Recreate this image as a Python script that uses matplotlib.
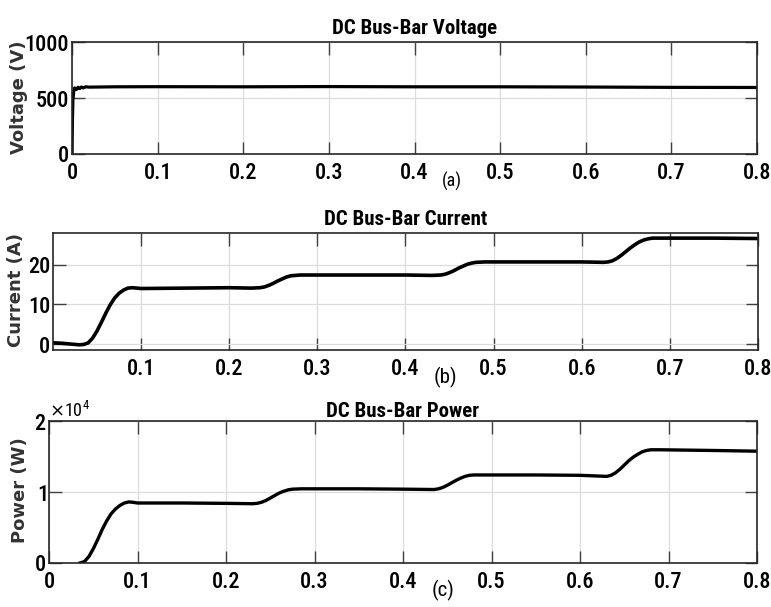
import numpy as np
import matplotlib
matplotlib.use('Agg')
from matplotlib import pyplot as plt
from matplotlib import font_manager
from matplotlib.ticker import ScalarFormatter

# voltage (V)
t_v = [0.0, 0.0005, 0.001, 0.002, 0.003, 0.005, 0.007, 0.009, 0.011, 0.013, 0.016, 0.02,
       0.05, 0.1, 0.2, 0.3, 0.4, 0.5, 0.6, 0.7, 0.8]
volt = [0, 300, 480, 560, 590, 575, 596, 584, 598, 590, 600, 597,
        600, 601, 600, 602, 600, 600, 598, 595, 594]

# current (A)
t_i = [0.0015, 0.01, 0.02, 0.03, 0.035, 0.04, 0.045, 0.05, 0.055, 0.06, 0.065, 0.07, 0.075,
       0.08, 0.085, 0.09, 0.095, 0.1, 0.15, 0.2, 0.225, 0.235, 0.24, 0.245, 0.25, 0.255,
       0.26, 0.265, 0.27, 0.28, 0.29, 0.35, 0.4, 0.43, 0.44, 0.445, 0.45, 0.455, 0.46,
       0.465, 0.47, 0.475, 0.48, 0.49, 0.55, 0.6, 0.625, 0.63, 0.635, 0.64, 0.645, 0.65,
       0.655, 0.66, 0.665, 0.67, 0.675, 0.68, 0.69, 0.75, 0.8]
curr = [0.3, 0.2, 0.0, -0.2, -0.1, 0.3, 1.5, 3.3, 5.5, 7.8, 9.9, 11.6, 12.8,
        13.6, 14.1, 14.2, 14.1, 14.0, 14.1, 14.2, 14.1, 14.2, 14.4, 14.8, 15.3, 15.9,
        16.4, 16.9, 17.2, 17.4, 17.4, 17.4, 17.4, 17.3, 17.4, 17.6, 18.0, 18.5, 19.1,
        19.6, 20.1, 20.4, 20.6, 20.7, 20.7, 20.7, 20.6, 20.7, 21.0, 21.6, 22.4, 23.3,
        24.2, 25.0, 25.7, 26.2, 26.5, 26.7, 26.7, 26.7, 26.6]

# power (W)
t_p = [0.035, 0.04, 0.045, 0.05, 0.055, 0.06, 0.065, 0.07, 0.075, 0.08, 0.085, 0.09,
       0.095, 0.1, 0.15, 0.2, 0.23, 0.235, 0.24, 0.245, 0.25, 0.255, 0.26, 0.265, 0.27,
       0.275, 0.285, 0.35, 0.4, 0.435, 0.44, 0.445, 0.45, 0.455, 0.46, 0.465, 0.47, 0.475,
       0.48, 0.49, 0.55, 0.6, 0.63, 0.635, 0.64, 0.645, 0.65, 0.655, 0.66, 0.665, 0.67,
       0.675, 0.68, 0.69, 0.75, 0.8]
power = [0, 200, 900, 2000, 3300, 4700, 5900, 6900, 7600, 8100, 8450, 8600,
         8550, 8450, 8450, 8400, 8350, 8400, 8550, 8800, 9150, 9500, 9850, 10100, 10300,
         10400, 10450, 10450, 10400, 10350, 10450, 10650, 10950, 11300, 11650, 11950, 12200, 12350,
         12400, 12400, 12400, 12350, 12200, 12350, 12700, 13200, 13800, 14400, 14900, 15300, 15650,
         15850, 15950, 15950, 15850, 15750]

# pick the narrowest sans family that is installed
names = {f.name for f in font_manager.fontManager.ttflist}
narrow = 'Liberation Sans'
for cand in ['Liberation Sans Narrow', 'Roboto Condensed', 'Open Sans Condensed', 'Liberation Sans']:
    if cand in names:
        narrow = cand
        break

plt.rcParams['font.family'] = [narrow, 'DejaVu Sans']
plt.rcParams['axes.edgecolor'] = '#262626'
plt.rcParams['axes.linewidth'] = 1.2

fig = plt.figure(figsize=(7.71, 6.07), dpi=100)

axA = fig.add_axes([0.0934, 0.7463, 0.8885, 0.1845])
axB = fig.add_axes([0.0687, 0.4234, 0.9144, 0.1928])
axC = fig.add_axes([0.0636, 0.0725, 0.9183, 0.2339])

axA.plot(t_v, volt, color='black', lw=2.3)
axB.plot(t_i, curr, color='black', lw=2.6)
axC.plot(t_p, power, color='black', lw=2.4)

axA.set_xlim(0, 0.8)
axA.set_ylim(0, 1000)
axA.set_yticks([0, 500, 1000])
axB.set_xlim(0.0015, 0.8)
axB.set_ylim(-1.5, 28)
axB.set_yticks([0, 10, 20])
axC.set_xlim(0, 0.8)
axC.set_ylim(0, 20000)
axC.set_yticks([0, 10000, 20000])

for ax in (axA, axB, axC):
    ax.set_xticks(np.arange(0, 0.81, 0.1))
    ax.set_xticklabels(['0', '0.1', '0.2', '0.3', '0.4', '0.5', '0.6', '0.7', '0.8'])
    ax.grid(True, color='#dcdcdc', lw=0.9)
    ax.tick_params(direction='in', top=True, right=True, length=9, width=1.0,
                   color='#404040', labelsize=16)
    ax.tick_params(axis='y', pad=2)
    ax.tick_params(axis='x', pad=6)
    for lab in ax.get_xticklabels() + ax.get_yticklabels():
        lab.set_fontweight('medium')

axB.set_xticks(np.arange(0.1, 0.81, 0.1))
axB.set_xticklabels(['0.1', '0.2', '0.3', '0.4', '0.5', '0.6', '0.7', '0.8'])
for lab in axB.get_xticklabels():
    lab.set_fontweight('medium')

fmt = ScalarFormatter(useMathText=True)
fmt.set_powerlimits((0, 0))
axC.yaxis.set_major_formatter(fmt)
axC.yaxis.get_offset_text().set_fontsize(13)

axA.set_title('DC Bus-Bar Voltage', fontsize=15, fontweight='bold', pad=6)
axB.set_title('DC Bus-Bar Current', fontsize=15, fontweight='bold', pad=6)
axC.set_title('DC Bus-Bar Power', fontsize=15, fontweight='bold', pad=3)

fig.text(19 / 771, 1 - 97 / 607, 'Voltage (V)', rotation=90, ha='center', va='center',
         fontsize=13, fontweight='bold', family='DejaVu Sans', color='#333333')
fig.text(16 / 771, 1 - 290 / 607, 'Current (A)', rotation=90, ha='center', va='center',
         fontsize=13, fontweight='bold', family='DejaVu Sans', color='#333333')
fig.text(20 / 771, 1 - 490 / 607, 'Power (W)', rotation=90, ha='center', va='center',
         fontsize=13, fontweight='bold', family='DejaVu Sans', color='#333333')

fig.text(452 / 771, 1 - 181 / 607, '(a)', ha='center', va='center', fontsize=13)
fig.text(445 / 771, 1 - 377 / 607, '(b)', ha='center', va='center', fontsize=15)
fig.text(443 / 771, 1 - 590 / 607, '(c)', ha='center', va='center', fontsize=15)

fig.savefig('out.png', dpi=100)
